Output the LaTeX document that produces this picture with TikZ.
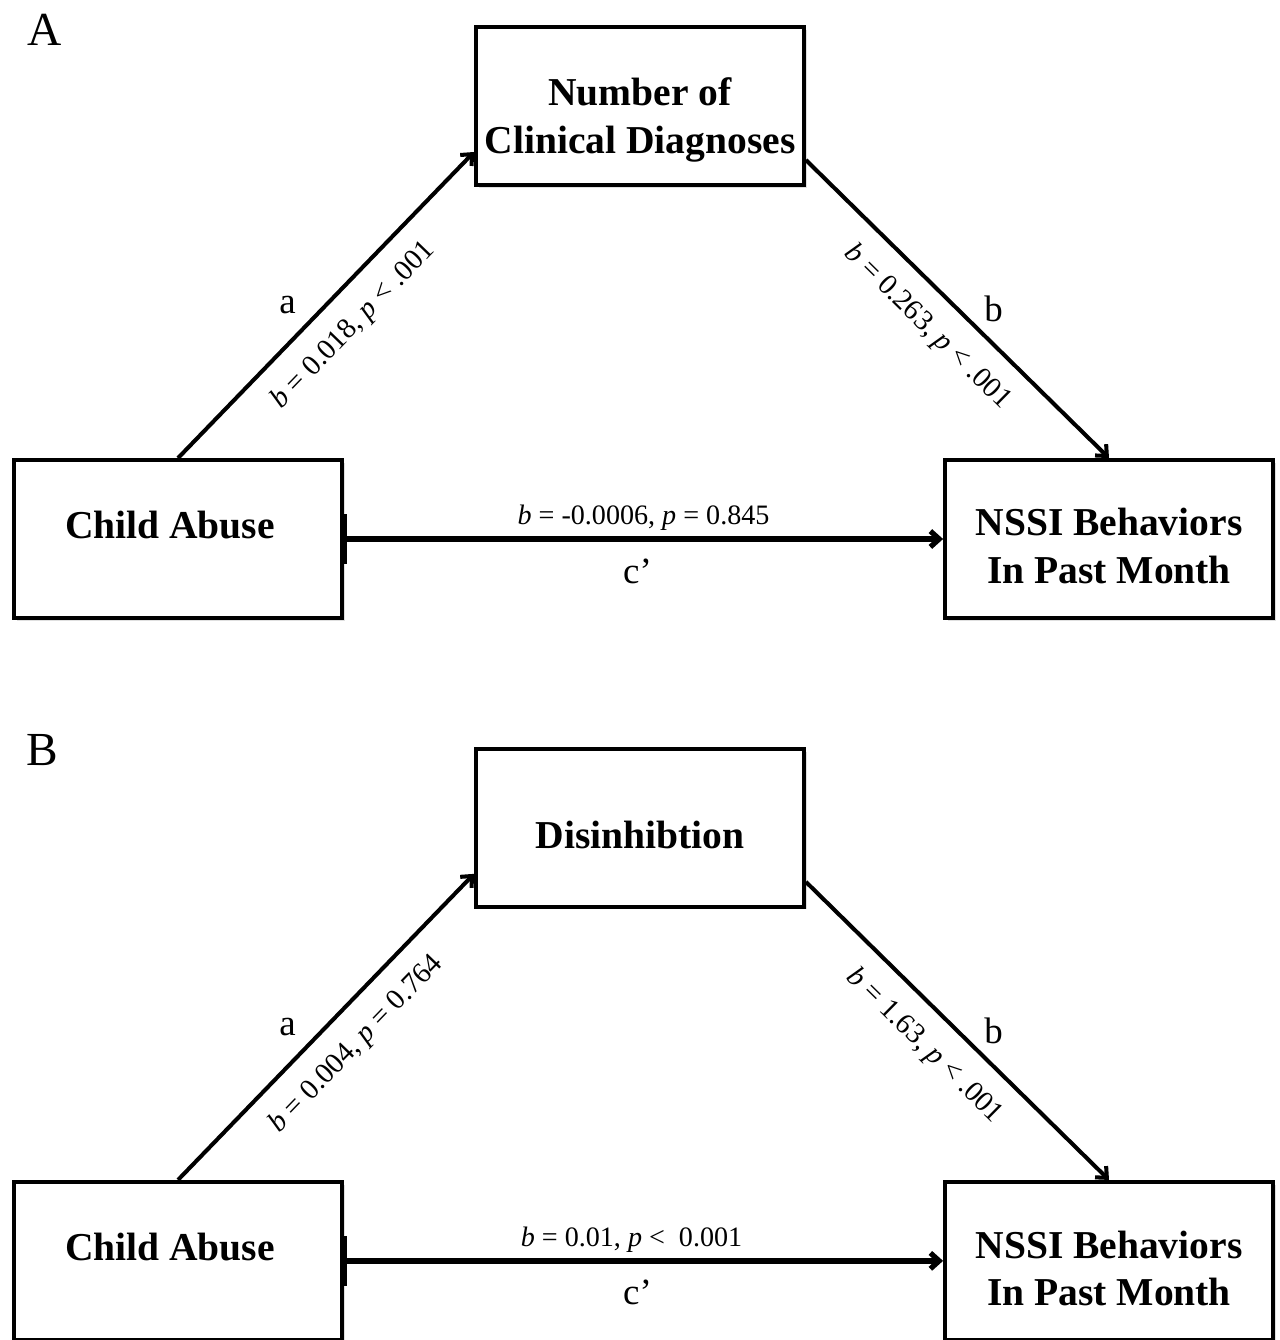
\documentclass[tikz,border=0pt]{standalone}
\usepackage{fontspec}
\setmainfont{Liberation Serif}
\usetikzlibrary{arrows.meta, positioning, shadows}

\begin{document}
\begin{tikzpicture}[x=0.02cm, y=0.02cm,
    varbox/.style={draw, line width=2.2pt, fill=white, minimum width=6.56cm,
      minimum height=3.16cm, inner sep=0pt,
      drop shadow={shadow xshift=1.5pt, shadow yshift=-1.5pt, opacity=0.25}},
    vartext/.style={align=center, inner sep=0pt, font=\bfseries\fontsize{22.5}{27}\selectfont},
    effect/.style={line width=2.3pt, -{Straight Barb[length=5pt, width=9pt]}},
    direct/.style={effect, line width=3pt},
    coef/.style={font=\fontsize{16}{18}\selectfont},
    slopecoef/.style={font=\fontsize{16.5}{18}\selectfont, sloped, below=0.26cm},
    pathtag/.style={font=\fontsize{21}{24}\selectfont},
    panel/.style={font=\fontsize{27}{30}\selectfont}]

\useasboundingbox (0,0) rectangle (1280,-1340);

%% panel A
\node[panel] (labA) at (45,-30) {A};
\node[varbox] (mid1) at (640,-106) {};
\node[varbox] (ca1) at (178,-539) {};
\node[varbox] (nssi1) at (1109,-539) {};
\node[vartext] (mid1txt) at ([yshift=-0.28cm]mid1.center) {Number of\\Clinical Diagnoses};
\node[vartext] (ca1txt) at ([xshift=-0.16cm, yshift=0.28cm]ca1.center) {Child Abuse};
\node[vartext] (nssi1txt) at ([yshift=-0.14cm]nssi1.center) {NSSI Behaviors\\In Past Month};
\draw[line width=3.4pt] ([yshift=0.5cm]ca1.east) -- ([yshift=-0.5cm]ca1.east);
%
\draw[effect] (ca1.north) -- node[pathtag, left=0.45cm, pos=0.5] (tagA1) {a}
  node[slopecoef, pos=0.51] (coefA1) {\textit{b} = 0.018, \textit{p} < .001}
  ([yshift=-0.92cm]mid1.west);
\draw[effect] ([yshift=-1.08cm]mid1.east) -- node[pathtag, right=0.38cm, pos=0.5] (tagB1) {b}
  node[slopecoef, pos=0.48] (coefB1) {\textit{b} = 0.263, \textit{p} < .001}
  (nssi1.north);
\draw[direct] (ca1.east) -- node[coef, above] (coefC1) {\textit{b} = -0.0006, \textit{p} = 0.845}
  node[pathtag, below=0.22cm, pos=0.49] (tagC1) {c’} (nssi1.west);

%% panel B
\begin{scope}[yshift=-14.44cm]
\node[panel] (labB) at (42,-28) {B};
\node[varbox] (mid2) at (640,-106) {};
\node[varbox] (ca2) at (178,-539) {};
\node[varbox] (nssi2) at (1109,-539) {};
\node[vartext] (mid2txt) at ([yshift=-0.14cm]mid2.center) {Disinhibtion};
\node[vartext] (ca2txt) at ([xshift=-0.16cm, yshift=0.28cm]ca2.center) {Child Abuse};
\node[vartext] (nssi2txt) at ([yshift=-0.15cm]nssi2.center) {NSSI Behaviors\\In Past Month};
\draw[line width=3.4pt] ([yshift=0.5cm]ca2.east) -- ([yshift=-0.5cm]ca2.east);
%
\draw[effect] (ca2.north) -- node[pathtag, left=0.45cm, pos=0.5] (tagA2) {a}
  node[slopecoef, pos=0.52] (coefA2) {\textit{b} = 0.004, \textit{p} = 0.764}
  ([yshift=-0.92cm]mid2.west);
\draw[effect] ([yshift=-1.08cm]mid2.east) -- node[pathtag, right=0.38cm, pos=0.5] (tagB2) {b}
  node[slopecoef, pos=0.47] (coefB2) {\textit{b} = 1.63, \textit{p} < .001}
  (nssi2.north);
\draw[direct] (ca2.east) -- node[coef, above, pos=0.48] (coefC2) {\textit{b} = 0.01, \textit{p} <\ \ 0.001}
  node[pathtag, below=0.22cm, pos=0.49] (tagC2) {c’} (nssi2.west);
\end{scope}
\end{tikzpicture}
\end{document}
